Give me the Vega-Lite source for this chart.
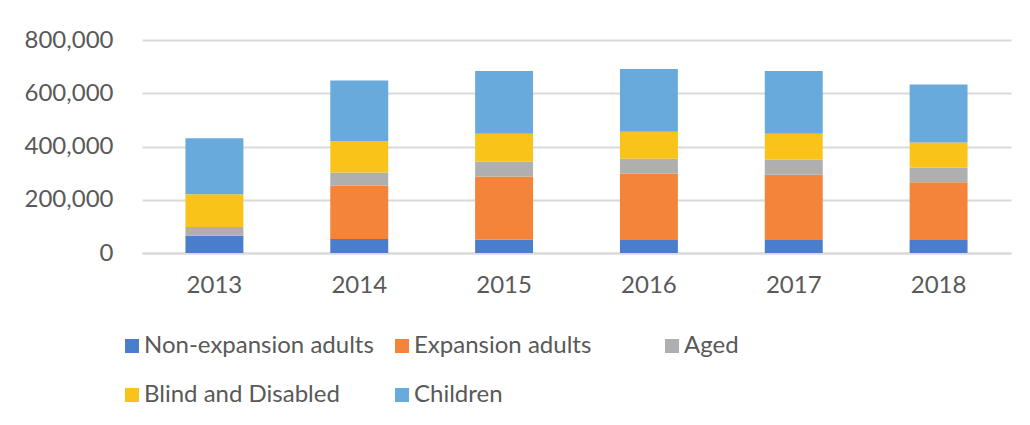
{
  "$schema": "https://vega.github.io/schema/vega-lite/v6.json",
  "width": 869,
  "height": 213,
  "autosize": "none",
  "padding": {"left": 142, "top": 40, "right": 19, "bottom": 172},
  "background": "white",
  "config": {
    "view": {"stroke": null},
    "font": "Lato",
    "axis": {"labelFont": "Lato", "labelColor": "#595959", "labelFontSize": 24, "title": null}
  },
  "data": {
    "values": [
      {"Year": "2013", "Group": "Non-expansion adults", "ord": 1, "Value": 65000},
      {"Year": "2013", "Group": "Aged", "ord": 3, "Value": 32500},
      {"Year": "2013", "Group": "Blind and Disabled", "ord": 4, "Value": 123500},
      {"Year": "2013", "Group": "Children", "ord": 5, "Value": 210000},
      {"Year": "2014", "Group": "Non-expansion adults", "ord": 1, "Value": 52500},
      {"Year": "2014", "Group": "Expansion adults", "ord": 2, "Value": 200000},
      {"Year": "2014", "Group": "Aged", "ord": 3, "Value": 50000},
      {"Year": "2014", "Group": "Blind and Disabled", "ord": 4, "Value": 117000},
      {"Year": "2014", "Group": "Children", "ord": 5, "Value": 228000},
      {"Year": "2015", "Group": "Non-expansion adults", "ord": 1, "Value": 50000},
      {"Year": "2015", "Group": "Expansion adults", "ord": 2, "Value": 237500},
      {"Year": "2015", "Group": "Aged", "ord": 3, "Value": 56500},
      {"Year": "2015", "Group": "Blind and Disabled", "ord": 4, "Value": 104000},
      {"Year": "2015", "Group": "Children", "ord": 5, "Value": 236000},
      {"Year": "2016", "Group": "Non-expansion adults", "ord": 1, "Value": 49000},
      {"Year": "2016", "Group": "Expansion adults", "ord": 2, "Value": 250000},
      {"Year": "2016", "Group": "Aged", "ord": 3, "Value": 55000},
      {"Year": "2016", "Group": "Blind and Disabled", "ord": 4, "Value": 101000},
      {"Year": "2016", "Group": "Children", "ord": 5, "Value": 236500},
      {"Year": "2017", "Group": "Non-expansion adults", "ord": 1, "Value": 49000},
      {"Year": "2017", "Group": "Expansion adults", "ord": 2, "Value": 245000},
      {"Year": "2017", "Group": "Aged", "ord": 3, "Value": 56000},
      {"Year": "2017", "Group": "Blind and Disabled", "ord": 4, "Value": 98000},
      {"Year": "2017", "Group": "Children", "ord": 5, "Value": 236000},
      {"Year": "2018", "Group": "Non-expansion adults", "ord": 1, "Value": 49000},
      {"Year": "2018", "Group": "Expansion adults", "ord": 2, "Value": 217000},
      {"Year": "2018", "Group": "Aged", "ord": 3, "Value": 54000},
      {"Year": "2018", "Group": "Blind and Disabled", "ord": 4, "Value": 95000},
      {"Year": "2018", "Group": "Children", "ord": 5, "Value": 218000}
    ]
  },
  "mark": {"type": "bar"},
  "encoding": {
    "x": {
      "field": "Year",
      "type": "nominal",
      "scale": {"paddingInner": 0.6, "paddingOuter": 0.3},
      "axis": {
        "labelAngle": 0,
        "ticks": false,
        "tickSize": 0,
        "labelPadding": 20,
        "domain": true,
        "domainColor": "#d9d9d9",
        "domainWidth": 2
      }
    },
    "y": {
      "field": "Value",
      "type": "quantitative",
      "stack": "zero",
      "scale": {"domain": [0, 800000], "nice": false},
      "axis": {
        "values": [0, 200000, 400000, 600000, 800000],
        "format": ",.0f",
        "ticks": false,
        "tickSize": 0,
        "domain": false,
        "labelPadding": 29,
        "grid": true,
        "gridColor": "#d9d9d9",
        "gridWidth": 2
      }
    },
    "color": {
      "field": "Group",
      "type": "nominal",
      "scale": {
        "domain": ["Non-expansion adults", "Expansion adults", "Aged", "Blind and Disabled", "Children"],
        "range": ["#4A7DCB", "#F4843A", "#AFAFAF", "#FAC31A", "#69AADD"]
      },
      "legend": {
        "title": null,
        "orient": "none",
        "legendX": -22,
        "legendY": 294,
        "direction": "horizontal",
        "columns": 3,
        "gridAlign": "all",
        "columnPadding": 16,
        "rowPadding": 25,
        "symbolType": "square",
        "symbolSize": 196,
        "symbolStrokeWidth": 0,
        "symbolOpacity": 1,
        "labelFont": "Lato",
        "labelFontSize": 24,
        "labelColor": "#595959",
        "labelOffset": 0,
        "labelLimit": 400,
        "padding": 0
      }
    },
    "order": {"field": "ord", "type": "quantitative"}
  }
}
